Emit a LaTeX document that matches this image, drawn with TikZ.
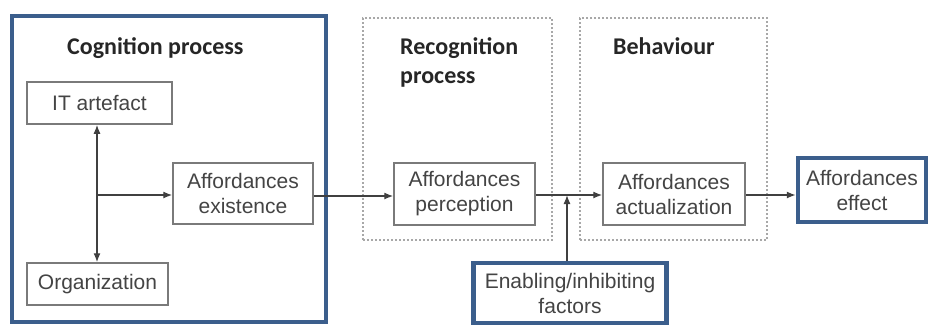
\documentclass[tikz,border=0pt]{standalone}
\usepackage{fontspec}
\setmainfont{Liberation Sans}
\newfontfamily\titlefont{Carlito}
\usetikzlibrary{arrows.meta}
\definecolor{frameblue}{HTML}{3B5E8C}
\definecolor{boxgray}{HTML}{7A7A7A}
\definecolor{txtgray}{HTML}{444444}
\definecolor{dotgray}{HTML}{A8A8A8}
\tikzset{
  inbox/.style={draw=boxgray, line width=1.5pt, fill=white, text=txtgray, align=center,
    font=\fontsize{21}{25}\selectfont, inner sep=0pt},
  bluebox/.style={draw=frameblue, line width=4.5pt, text=txtgray, align=center,
    font=\fontsize{21}{25}\selectfont, inner sep=0pt},
  dotbox/.style={draw=dotgray, line width=1.6pt, dash pattern=on 1.6pt off 2.4pt},
  ttl/.style={font=\titlefont\bfseries\fontsize{24}{29}\selectfont, text=black!85, align=left, anchor=north west, inner sep=0pt},
  conn/.style={draw=black!75, line width=1.3pt, -{Latex[length=9pt,width=7pt]}},
}
\begin{document}
\begin{tikzpicture}[x=1pt,y=-1pt]
\useasboundingbox (0,0) rectangle (932,325);
\fill[white] (0,0) rectangle (932,325);
% group frames
\node[bluebox, minimum width=314pt, minimum height=306pt] (cog) at (169,169) {};
\node[dotbox, minimum width=189pt, minimum height=222pt] (rec) at (457.5,129) {};
\node[dotbox, minimum width=187pt, minimum height=222pt] (beh) at (673.5,129) {};
% titles
\node[ttl] (tcog) at (67,37) {Cognition process};
\node[ttl] (trec) at (400,37) {Recognition\\process};
\node[ttl] (tbeh) at (613,37) {Behaviour};
% inner boxes
\node[inbox, minimum width=145pt, minimum height=42pt] (it) at (99.5,103) {IT artefact};
\node[inbox, minimum width=141pt, minimum height=42pt] (org) at (97.5,284) {Organization};
\node[inbox, minimum width=140pt, minimum height=61pt] (exi) at (243,193.5) {Affordances\\existence};
\node[inbox, minimum width=141pt, minimum height=62pt] (per) at (464.5,194) {Affordances\\perception};
\node[inbox, minimum width=142pt, minimum height=62pt] (act) at (674,194) {Affordances\\actualization};
\node[bluebox, minimum width=128pt, minimum height=64pt] (eff) at (862,190) {Affordances\\effect};
\node[bluebox, minimum width=193pt, minimum height=60pt] (ena) at (570,293) {Enabling/inhibiting\\factors};
% connectors
\coordinate (j1) at (97,195);
\coordinate (j2) at (567,195);
\draw[conn] (j1) -- (it.south -| j1);
\draw[conn] (j1) -- (org.north -| j1);
\draw[conn] (j1) -- (exi.west |- j1);
\draw[conn] (exi.east |- 0,196) -- (per.west |- 0,196);
\draw[conn] (per.east |- j2) -- (act.west |- j2);
\draw[conn] (ena.north -| j2) -- (j2);
\draw[conn] (act.east |- j2) -- (eff.west |- j2);
\end{tikzpicture}
\end{document}
